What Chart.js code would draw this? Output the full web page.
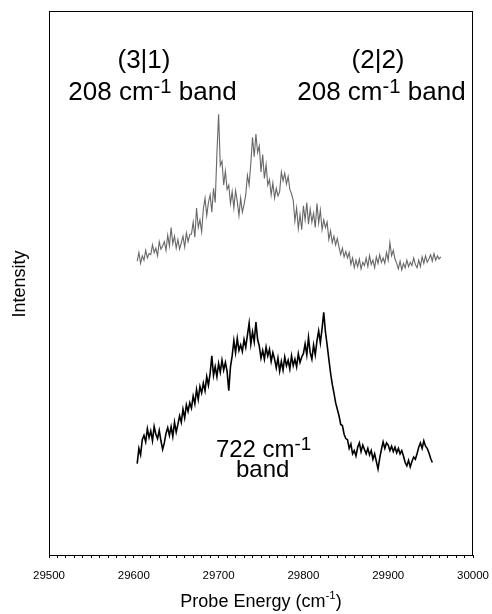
<!DOCTYPE html>
<html>
<head>
<meta charset="utf-8">
<script src="https://cdn.jsdelivr.net/npm/chart.js@4.4.1/dist/chart.umd.min.js"></script>
<style>
  html, body { margin: 0; padding: 0; background: #fff; }
  #wrap { width: 492px; height: 614px; }
</style>
</head>
<body>
<div id="wrap"><canvas id="c" width="492" height="614"></canvas></div>
<script>
// ---- data ----
const energies = [
  29604, 29606, 29608, 29610, 29612, 29614, 29616, 29618, 29620, 29622,
  29624, 29626, 29628, 29630, 29632, 29634, 29636, 29638, 29640, 29642,
  29644, 29646, 29648, 29650, 29652, 29654, 29656, 29658, 29660, 29662,
  29664, 29666, 29668, 29670, 29672, 29674, 29676, 29678, 29680, 29682,
  29684, 29686, 29688, 29690, 29692, 29694, 29696, 29698, 29700, 29702,
  29704, 29706, 29708, 29710, 29712, 29714, 29716, 29718, 29720, 29722,
  29724, 29726, 29728, 29730, 29732, 29734, 29736, 29738, 29740, 29742,
  29744, 29746, 29748, 29750, 29752, 29754, 29756, 29758, 29760, 29762,
  29764, 29766, 29768, 29770, 29772, 29774, 29776, 29778, 29780, 29782,
  29784, 29786, 29788, 29790, 29792, 29794, 29796, 29798, 29800, 29802,
  29804, 29806, 29808, 29810, 29812, 29814, 29816, 29818, 29820, 29822,
  29824, 29826, 29828, 29830, 29832, 29834, 29836, 29838, 29840, 29842,
  29844, 29846, 29848, 29850, 29852, 29854, 29856, 29858, 29860, 29862,
  29864, 29866, 29868, 29870, 29872, 29874, 29876, 29878, 29880, 29882,
  29884, 29886, 29888, 29890, 29892, 29894, 29896, 29898, 29900, 29902,
  29904, 29906, 29908, 29910, 29912, 29914, 29916, 29918, 29920, 29922,
  29924, 29926, 29928, 29930, 29932, 29934, 29936, 29938, 29940, 29942,
  29944, 29946, 29948, 29950, 29952, 29954, 29956, 29958, 29960, 29962
];
// 208 cm-1 band trace (upper, grey)
const band208 = [
  54.0, 55.6, 53.6, 55.0, 54.2, 56.0, 54.6, 55.4,
  55.2, 57.0, 55.6, 56.4, 55.0, 57.6, 56.2, 56.8,
  57.6, 56.0, 58.8, 56.8, 60.2, 57.2, 58.6, 56.4,
  58.0, 56.2, 57.4, 58.6, 56.6, 59.2, 57.6, 58.9,
  59.0, 61.2, 58.4, 63.8, 60.2, 61.6, 59.4,
  63.6, 65.6, 62.4, 64.8, 66.2,
  63.0, 67.4, 64.8,
  73.8, 81.0, 71.6,
  72.4, 68.0, 70.6, 67.2,
  68.0, 64.6, 66.8, 63.8, 67.0, 65.0,
  62.4, 65.6, 63.0, 64.4,
  66.2, 69.8, 68.0,
  72.0, 76.8, 73.2, 77.4, 74.0,
  75.2, 70.4, 73.6, 69.2, 71.8, 68.0,
  69.0, 66.2, 68.4, 65.6, 67.4, 66.0,
  66.8, 70.4, 68.8,
  70.2, 68.2, 69.6, 67.2, 66.4,
  65.2, 61.4, 63.8, 60.0, 62.6, 59.8, 64.2,
  61.6, 64.8, 60.8, 63.6, 61.2,
  62.8, 60.2, 64.6, 61.0, 63.4, 59.8, 61.6, 60.2, 61.2,
  58.0, 59.6, 57.4, 58.6, 57.0, 58.2,
  56.6, 55.2, 56.4, 54.8, 55.8, 54.6, 55.6,
  53.4, 54.6, 52.8, 54.2, 53.0, 54.4, 52.6, 53.8, 53.2,
  54.6, 53.0, 55.0, 53.4, 54.2, 52.8, 54.8, 53.6, 55.2, 53.8, 54.6, 53.6,
  55.6, 54.2, 57.4, 55.0, 56.0, 54.4,
  53.6, 52.6, 54.0, 52.4, 53.6, 52.8, 54.2, 53.0, 53.8,
  53.2, 54.6, 53.4, 52.8, 54.2, 53.0, 54.8, 53.6, 55.0,
  53.8, 54.4, 55.2, 54.0, 55.4, 54.2, 55.0, 54.4, 54.8
];
// 722 cm-1 band trace (lower, black)
const band722 = [
  16.8, 19.6, 18.4, 21.2,
  22.0, 20.8, 23.2, 21.6, 22.8, 21.0, 23.6, 22.2, 21.4, 22.9,
  21.0, 19.4, 20.6, 22.4, 23.4,
  22.0, 23.6, 21.8, 24.4, 22.6, 24.0,
  25.6, 24.4, 26.8, 25.2, 27.6, 26.4, 28.0,
  27.0, 29.2, 27.8, 30.4, 28.6, 31.0, 29.8,
  31.6, 30.2, 32.8, 31.2, 33.4,
  36.6, 33.0,
  34.6, 32.8, 35.2, 33.6, 35.8, 34.0, 35.4,
  33.8, 30.2, 34.6,
  36.6, 39.4, 37.2, 39.8, 37.6, 38.6,
  37.4, 39.6, 38.2, 40.4,
  42.6, 38.8, 41.0, 39.2, 42.8, 39.6,
  38.4, 36.2, 37.6, 36.0, 38.2,
  36.6, 37.8, 35.6, 37.2, 36.0,
  34.4, 36.2, 33.8, 35.6, 34.0, 36.4, 34.8,
  35.8, 34.2, 36.6, 34.8, 36.0, 34.6, 37.0, 35.4, 36.4,
  37.0, 38.8, 36.8, 40.0,
  37.2, 36.0, 38.6, 36.8,
  39.4, 41.2, 39.0, 41.6,
  44.6,
  41.0, 38.6, 36.0,
  33.5, 31.4, 29.8, 28.0, 26.8,
  25.6, 24.0, 23.8, 22.2, 21.4,
  21.2, 19.6, 20.4, 18.6, 19.2, 18.2,
  19.8, 20.6, 19.0, 20.2, 19.4, 18.6, 19.6,
  18.4, 19.2, 17.6, 18.6, 17.2, 15.8,
  17.8, 19.4, 20.8, 19.6, 20.6, 20.2,
  19.2, 20.0, 19.0, 19.8, 18.8, 19.6, 18.6, 19.2, 18.2,
  17.0, 16.4, 17.4, 16.2, 17.2,
  18.0, 17.6, 18.6, 19.8,
  20.6, 19.6, 21.0, 20.0, 19.6,
  18.8, 17.8, 17.0,
  null, null, null, null, null
];
const xMin = 29500, xMax = 30000, xMajor = 100, xMinor = 10;
const yMin = 0, yMax = 100;

const FONT = '"Liberation Sans", Arial, Helvetica, sans-serif';

function toPoints(xs, ys) {
  return xs.map((x, i) => ({ x: x, y: ys[i] }));
}

// rich text: parts = [{t, sup}] ; drawn centred at cx with baseline by
function drawRich(ctx, parts, cx, by, size, supScale, supRaise) {
  let total = 0;
  for (const p of parts) {
    ctx.font = (p.sup ? size * supScale : size) + 'px ' + FONT;
    total += ctx.measureText(p.t).width;
  }
  let x = cx - total / 2;
  ctx.textAlign = 'left';
  ctx.textBaseline = 'alphabetic';
  for (const p of parts) {
    ctx.font = (p.sup ? size * supScale : size) + 'px ' + FONT;
    ctx.fillText(p.t, x, p.sup ? by - size * supRaise : by);
    x += ctx.measureText(p.t).width;
  }
}

const decor = {
  id: 'decor',
  afterDraw(chart) {
    const ctx = chart.ctx;
    const a = chart.chartArea;
    const xs = chart.scales.x, ys = chart.scales.y;
    ctx.save();
    // frame
    ctx.strokeStyle = '#000';
    ctx.lineWidth = 1;
    ctx.strokeRect(Math.round(a.left) + 0.5, Math.round(a.top) + 0.5,
                   Math.round(a.right - a.left) - 1, Math.round(a.bottom - a.top));
    ctx.fillStyle = '#000';
    // annotations anchored through the scales
    const px = v => xs.getPixelForValue(v);
    const py = v => ys.getPixelForValue(v);
    const band = [{t: '208 cm'}, {t: '-1', sup: true}, {t: ' band'}];
    drawRich(ctx, [{t: '(3|1)'}], px(29612), py(89.5), 26, 0.78, 0.29);
    drawRich(ctx, band, px(29622), py(83.6), 26, 0.78, 0.29);
    drawRich(ctx, [{t: '(2|2)'}], px(29888), py(89.5), 26, 0.78, 0.29);
    drawRich(ctx, band, px(29892), py(83.6), 26, 0.78, 0.29);
    drawRich(ctx, [{t: '722 cm'}, {t: '-1', sup: true}], px(29753), py(18.1), 24, 0.78, 0.29);
    drawRich(ctx, [{t: 'band'}], px(29752), py(14.3), 24, 0.78, 0.29);
    // x axis title
    drawRich(ctx, [{t: 'Probe Energy (cm'}, {t: '-1', sup: true}, {t: ')'}],
             (a.left + a.right) / 2, 607, 18, 0.64, 0.42);
    // y axis title
    ctx.translate(25, (a.top + a.bottom) / 2 + 1);
    ctx.rotate(-Math.PI / 2);
    ctx.font = '18px ' + FONT;
    ctx.textAlign = 'center';
    ctx.textBaseline = 'alphabetic';
    ctx.fillText('Intensity', 0, 0);
    ctx.restore();
  }
};

new Chart(document.getElementById('c'), {
  type: 'line',
  data: {
    datasets: [
      {
        label: '208 cm-1 band',
        data: toPoints(energies, band208),
        borderColor: 'rgba(45,45,45,0.72)',
        borderWidth: 1.1,
        pointRadius: 0,
        tension: 0,
        spanGaps: false
      },
      {
        label: '722 cm-1 band',
        data: toPoints(energies, band722),
        borderColor: '#000',
        borderWidth: 1.6,
        pointRadius: 0,
        tension: 0,
        spanGaps: false
      }
    ]
  },
  options: {
    responsive: false,
    animation: false,
    devicePixelRatio: 1,
    layout: { padding: { top: 11, right: 19, left: 0, bottom: 0 } },
    plugins: { legend: { display: false }, tooltip: { enabled: false } },
    scales: {
      x: {
        type: 'linear',
        min: xMin,
        max: xMax,
        ticks: {
          stepSize: xMinor,
          autoSkip: false,
          maxRotation: 0,
          padding: 11,
          color: '#000',
          font: { size: 11.5, family: FONT },
          callback: v => (v % xMajor === 0 ? String(v) : '')
        },
        grid: { drawOnChartArea: false, drawTicks: true, tickLength: 3, color: '#000' },
        border: { display: true, color: '#000', width: 1 },
        afterFit: s => { s.height = 59; s.paddingLeft = 0; s.paddingRight = 0; }
      },
      y: {
        min: yMin,
        max: yMax,
        ticks: { display: false },
        grid: { display: false },
        border: { display: true, color: '#000', width: 1 },
        afterFit: s => { s.width = 49; }
      }
    }
  },
  plugins: [decor]
});
</script>
</body>
</html>
